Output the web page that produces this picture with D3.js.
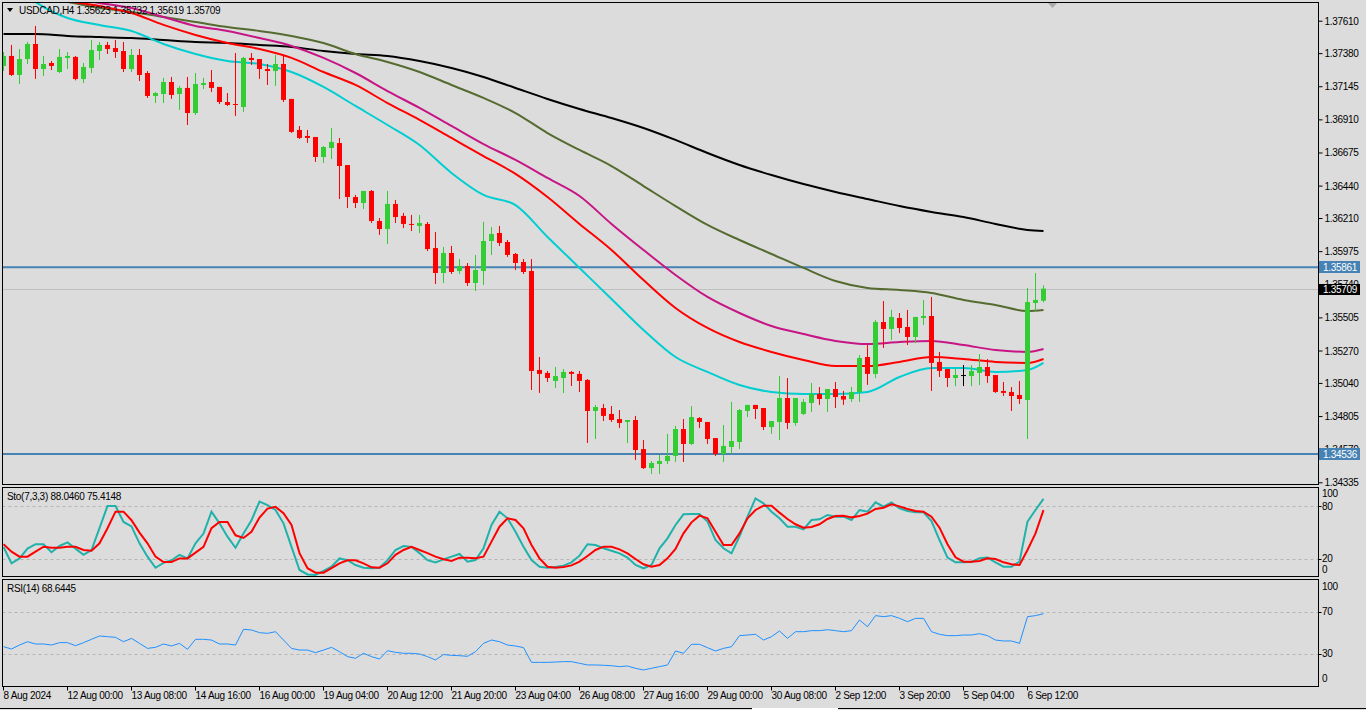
<!DOCTYPE html>
<html><head><meta charset="utf-8">
<script src="https://cdnjs.cloudflare.com/ajax/libs/d3/7.8.5/d3.min.js"></script>
<style>
html,body{margin:0;padding:0;background:#dcdcdc;overflow:hidden}
svg{display:block}
text{font-family:"Liberation Sans",Arial,sans-serif;font-size:10px;letter-spacing:-0.3px;fill:#000}
</style></head><body><svg id="c" width="1366" height="710"></svg>
<script>
// ---------- DATA ----------
const symbolTitle = "USDCAD,H4  1.35623 1.35732 1.35619 1.35709";
const stochTitle = "Sto(7,3,3) 88.0460 75.4148";
const rsiTitle = "RSI(14) 68.6445";

const openP = [1.37289,1.37360,1.37225,1.37338,1.37445,1.37267,1.37310,1.37246,1.37346,1.37353,
1.37196,1.37275,1.37395,1.37438,1.37416,1.37395,1.37267,1.37367,1.37239,1.37076,
1.37090,1.37175,1.37090,1.37133,1.36955,1.37154,1.37175,1.37140,1.37033,1.37019,
1.36998,1.37346,1.37338,1.37267,1.37253,1.37303,1.37055,1.36835,1.36792,1.36785,
1.36643,1.36707,1.36742,1.36586,1.36359,1.36317,1.36402,1.36189,1.36132,1.36310,
1.36225,1.36168,1.36154,1.36168,1.35997,1.35820,1.35962,1.35834,1.35870,1.35749,
1.35834,1.36047,1.36104,1.36040,1.35955,1.35898,1.35834,1.35132,1.35111,1.35054,
1.35075,1.35118,1.35104,1.35061,1.34841,1.34862,1.34820,1.34784,1.34763,1.34777,
1.34571,1.34436,1.34465,1.34486,1.34522,1.34713,1.34607,1.34791,1.34763,1.34649,
1.34536,1.34586,1.34621,1.34841,1.34884,1.34862,1.34727,1.34763,1.34933,1.34756,
1.34820,1.34898,1.34962,1.34926,1.34997,1.34947,1.34926,1.34976,1.35224,1.35104,
1.35472,1.35423,1.35501,1.35437,1.35366,1.35501,1.35515,1.35189,1.35139,1.35075,
1.35096,1.35089,1.35111,1.35153,1.35096,1.34983,1.34976,1.34955,1.34919,1.35607,
1.35623];
const highP = [1.37388,1.37438,1.37409,1.37459,1.37573,1.37360,1.37324,1.37409,1.37388,1.37360,
1.37310,1.37473,1.37459,1.37459,1.37473,1.37459,1.37409,1.37409,1.37253,1.37104,
1.37204,1.37211,1.37147,1.37211,1.37239,1.37204,1.37260,1.37140,1.37097,1.37381,
1.37353,1.37381,1.37338,1.37303,1.37367,1.37367,1.37055,1.36863,1.36835,1.36785,
1.36721,1.36849,1.36778,1.36586,1.36374,1.36402,1.36409,1.36210,1.36402,1.36338,
1.36246,1.36232,1.36232,1.36182,1.36111,1.36005,1.36012,1.35919,1.35891,1.35948,
1.36182,1.36146,1.36154,1.36054,1.35962,1.35919,1.35919,1.35224,1.35125,1.35153,
1.35139,1.35125,1.35125,1.35068,1.34884,1.34891,1.34876,1.34848,1.34777,1.34806,
1.34635,1.34486,1.34529,1.34678,1.34735,1.34784,1.34876,1.34798,1.34763,1.34649,
1.34742,1.34905,1.34855,1.34884,1.34884,1.34862,1.34770,1.35089,1.35075,1.34933,
1.34926,1.35040,1.35011,1.34997,1.35047,1.34983,1.35011,1.35238,1.35309,1.35487,
1.35621,1.35558,1.35536,1.35558,1.35508,1.35629,1.35650,1.35260,1.35139,1.35139,
1.35167,1.35167,1.35245,1.35210,1.35096,1.35047,1.35011,1.35054,1.35714,1.35820,
1.35732];
const lowP = [1.37260,1.37225,1.37168,1.37310,1.37204,1.37225,1.37267,1.37246,1.37275,1.37194,
1.37175,1.37246,1.37338,1.37381,1.37353,1.37253,1.37253,1.37189,1.37069,1.37033,
1.37033,1.37062,1.36984,1.36877,1.36948,1.37133,1.37111,1.37026,1.37012,1.36941,
1.36970,1.37303,1.37204,1.37161,1.37154,1.37040,1.36821,1.36778,1.36750,1.36615,
1.36608,1.36636,1.36352,1.36288,1.36288,1.36281,1.36182,1.36097,1.36033,1.36182,
1.36146,1.36125,1.36111,1.35983,1.35749,1.35756,1.35820,1.35820,1.35735,1.35699,
1.35742,1.35955,1.36019,1.35941,1.35848,1.35820,1.34997,1.34976,1.35054,1.35011,
1.34976,1.35025,1.34983,1.34621,1.34649,1.34777,1.34770,1.34727,1.34621,1.34500,
1.34436,1.34401,1.34401,1.34472,1.34486,1.34486,1.34607,1.34727,1.34614,1.34529,
1.34486,1.34543,1.34578,1.34806,1.34791,1.34713,1.34685,1.34642,1.34720,1.34742,
1.34820,1.34841,1.34891,1.34841,1.34869,1.34891,1.34912,1.34912,1.35033,1.35082,
1.35295,1.35352,1.35401,1.35316,1.35330,1.35458,1.34990,1.35089,1.35018,1.35025,
1.35025,1.35025,1.35033,1.35047,1.34976,1.34955,1.34848,1.34898,1.34649,1.35558,
1.35619];
const closeP = [1.37360,1.37225,1.37338,1.37445,1.37267,1.37303,1.37289,1.37353,1.37360,1.37196,
1.37282,1.37402,1.37438,1.37409,1.37388,1.37267,1.37367,1.37225,1.37076,1.37097,
1.37175,1.37083,1.37133,1.36955,1.37161,1.37168,1.37133,1.37033,1.37012,1.37012,
1.37346,1.37331,1.37267,1.37253,1.37303,1.37048,1.36821,1.36778,1.36778,1.36643,
1.36714,1.36750,1.36579,1.36359,1.36317,1.36402,1.36189,1.36132,1.36310,1.36217,
1.36168,1.36161,1.36175,1.35990,1.35820,1.35962,1.35827,1.35870,1.35749,1.35841,
1.36047,1.36097,1.36033,1.35948,1.35891,1.35827,1.35125,1.35104,1.35075,1.35089,
1.35118,1.35104,1.35054,1.34841,1.34869,1.34806,1.34777,1.34756,1.34777,1.34564,
1.34436,1.34472,1.34486,1.34522,1.34713,1.34607,1.34798,1.34763,1.34642,1.34536,
1.34593,1.34628,1.34848,1.34884,1.34855,1.34727,1.34770,1.34933,1.34756,1.34933,
1.34905,1.34962,1.34926,1.34997,1.34940,1.34922,1.34976,1.35217,1.35104,1.35472,
1.35423,1.35508,1.35430,1.35366,1.35508,1.35515,1.35182,1.35125,1.35075,1.35096,
1.35096,1.35125,1.35153,1.35089,1.34976,1.34969,1.34947,1.34926,1.35614,1.35629,
1.35709];

// moving averages, sampled at these bar indices
const maBars = [0,4,8,12,16,20,24,28,32,36,40,44,48,52,56,60,64,68,72,76,80,84,88,92,96,100,104,108,112,116,120,124,128,130];
const maCyan = [1.37941,1.37743,1.37629,1.37580,1.37537,1.37445,1.37374,1.37324,1.37303,1.37246,1.37140,1.37005,1.36870,1.36728,1.36530,1.36374,1.36302,1.36076,1.35856,1.35636,1.35416,1.35224,1.35118,1.35025,1.34976,1.34962,1.34962,1.34976,1.35082,1.35146,1.35146,1.35118,1.35132,1.35182];
const maRed = [1.37842,1.37800,1.37750,1.37714,1.37665,1.37580,1.37509,1.37452,1.37409,1.37346,1.37246,1.37154,1.37026,1.36906,1.36778,1.36650,1.36523,1.36359,1.36168,1.35983,1.35770,1.35572,1.35430,1.35330,1.35260,1.35203,1.35160,1.35160,1.35189,1.35224,1.35210,1.35189,1.35182,1.35210];
const maMagenta = [1.37863,1.37814,1.37771,1.37736,1.37700,1.37636,1.37573,1.37537,1.37487,1.37431,1.37346,1.37239,1.37111,1.36991,1.36863,1.36735,1.36622,1.36494,1.36366,1.36168,1.35983,1.35806,1.35650,1.35536,1.35444,1.35387,1.35338,1.35316,1.35330,1.35338,1.35309,1.35274,1.35260,1.35281];
const maOlive = [1.37814,1.37778,1.37743,1.37700,1.37672,1.37636,1.37601,1.37565,1.37537,1.37502,1.37452,1.37374,1.37317,1.37246,1.37154,1.37062,1.36955,1.36813,1.36693,1.36579,1.36437,1.36295,1.36161,1.36054,1.35955,1.35856,1.35763,1.35714,1.35699,1.35678,1.35629,1.35593,1.35550,1.35558];
const maBlack = [1.37516,1.37516,1.37502,1.37494,1.37487,1.37473,1.37459,1.37452,1.37438,1.37424,1.37395,1.37374,1.37360,1.37324,1.37275,1.37211,1.37133,1.37055,1.36984,1.36920,1.36849,1.36764,1.36671,1.36586,1.36515,1.36451,1.36395,1.36345,1.36295,1.36253,1.36217,1.36168,1.36125,1.36118];

const stochMain = [34,15.5,21,32,37,37,28,35,39,32,25,30.5,55,80,80,62,57,38,23,10.5,
16,19,25,21,38,49,73.5,60.5,45.5,33,49,64,85,81,75.5,60.5,34,8,3,2.4,
7,11.7,21,19,13.6,10.5,10,10.5,19,30.5,35,34,27,19,16.6,20,23,26,17.3,19.2,
32.4,58.6,73.6,66.1,51.1,34.2,19.2,11.7,10.6,11.4,12.9,16.6,24.1,36.9,36.1,32.4,29.7,26.7,21.9,13.6,
9.9,13.6,32.4,43.6,58.6,70.6,71,71,62.4,41.7,32.4,26.7,45.9,68,88.6,83,73.6,66.1,56.7,56.7,
53.7,64.2,65,69.9,68,68,64.2,75.5,73.6,84.1,79.2,84.1,77.4,74.4,72.9,72.9,63.1,41.7,21.9,16.6,
16.6,17,21.1,21.9,16.6,11.7,11.7,17.4,62.4,75.5,88.05];
const stochSignal = [37,28.6,23,23,28.6,34.2,33,33,34,34,30.5,29.7,38,55,73.6,73.6,64,50,38,23,
17,17,21,21,27.5,34,55,62,62,47,44,51,67,77,79,72,58.6,27,10,5,
5,10,15.5,19,19,15.5,11,10.6,15.5,25,30.5,34,30.5,27,23,20,18.1,21.9,21.9,21.1,
23,39.9,56.7,66.1,64.2,54.9,36.1,21.1,11.7,10.6,11.4,13.2,17.4,23.7,30.5,34.2,34.2,31.2,26.7,20.4,
14.4,11.7,13.6,21.1,31.6,49.2,61.6,69.1,66.1,51.1,36.1,36.1,49.2,66.1,75.5,80.3,80.3,72.5,65.4,59.4,
55.6,56.4,59.4,65.4,68.7,69.1,67.2,68.7,71.4,76.6,78.1,81.9,79.6,76.6,74.4,73.6,68,55.6,36.9,22.2,
17.4,17.4,18.1,21.1,20.4,16.6,14.4,13.6,30.5,49.2,75.41];
const rsiValues = [37,34.8,38.6,41.8,39.6,39.6,38.6,40.9,40.9,38,40.9,44.1,47.3,46.6,46,41.8,45,40.2,35.4,36.4,
39.6,37.7,40.2,34.5,44.1,44.1,43.4,39.6,39.6,38.6,53.7,53,50.5,49.8,51.4,43.4,35.4,33.8,33.8,31.3,
33.8,36.4,32.2,27.5,25.9,30.7,27.5,25.2,33.2,31.6,30.7,30.7,30,27.5,24.3,29.5,28.7,28.4,27.8,32.2,
40.2,43.4,41.8,38.6,37.7,36.1,22,22,22,22.3,22.7,22.7,21.1,19.5,19.5,19.2,18.8,17.9,18.5,16.3,
14.7,16.3,17.9,19.5,32.9,30.7,39.3,39.3,36.1,32.9,35.4,37,47.6,48.2,48.9,43.4,46.6,52.1,45,51.4,
51.4,52.4,52.4,53.3,52.4,51.4,52.4,62.6,56.2,66.8,65.8,66.8,64.2,61,64.2,64.2,51.4,48.9,47.6,47.6,
48.2,48.2,49.5,47.6,43.4,42.5,42.5,40.2,65.8,66.8,68.64];

const priceTicks = [1.37610,1.37380,1.37145,1.36910,1.36675,1.36440,1.36210,1.35975,1.35740,1.35505,1.35270,1.35040,1.34805,1.34570,1.34335];
const timeTickBars = [0,8,16,24,32,40,48,56,64,72,80,88,96,104,112,120,128];
const timeTickLabels = ["8 Aug 2024","12 Aug 00:00","13 Aug 08:00","14 Aug 16:00","16 Aug 00:00","19 Aug 04:00","20 Aug 12:00","21 Aug 20:00","23 Aug 04:00","26 Aug 08:00","27 Aug 16:00","29 Aug 00:00","30 Aug 08:00","2 Sep 12:00","3 Sep 20:00","5 Sep 04:00","6 Sep 12:00"];
const levelLines = [1.35861, 1.34536];
const bidPrice = 1.35709;
const stochLevels = [80, 20];
const rsiLevels = [70, 30];

// ---------- LAYOUT ----------
const svg = d3.select("#c");
const L = 2.5, R = 1318.5;
const mainTop = 2.5, mainBot = 484.5;
const stTop = 487.5, stBot = 576.5;
const rsTop = 579.5, rsBot = 686.5;

const x = d3.scaleLinear().domain([0, 130]).range([3.5, 1043.5]);
const yP = d3.scaleLinear().domain([1.34335, 1.37610]).range([482.3, 20.7]);
const yS = d3.scaleLinear().domain([0, 100]).range([577.1, 488.2]);
const yR = d3.scaleLinear().domain([0, 100]).range([685.3, 581]);
const fmt5 = d3.format(".5f");

const defs = svg.append("defs");
defs.append("clipPath").attr("id","cm").append("rect").attr("x",3).attr("y",3).attr("width",R-3).attr("height",mainBot-3);
defs.append("clipPath").attr("id","cs").append("rect").attr("x",3).attr("y",stTop+0.5).attr("width",R-3).attr("height",stBot-stTop-1);
defs.append("clipPath").attr("id","cr").append("rect").attr("x",3).attr("y",rsTop+0.5).attr("width",R-3).attr("height",rsBot-rsTop-1);

svg.append("rect").attr("width",1366).attr("height",710).attr("fill","#dcdcdc");

// ---------- MAIN PANEL ----------
const gm = svg.append("g").attr("clip-path","url(#cm)");
gm.append("line").attr("x1",L).attr("x2",R).attr("y1",Math.round(yP(bidPrice))+0.5).attr("y2",Math.round(yP(bidPrice))+0.5)
  .attr("stroke","#c0c0c0").attr("stroke-width",1);
gm.selectAll("line.lvl").data(levelLines).enter().append("line").attr("class","lvl")
  .attr("x1",L).attr("x2",R).attr("y1",d=>yP(d)).attr("y2",d=>yP(d))
  .attr("stroke","#4682b4").attr("stroke-width",2);

const maDefs = [
  {v: maBlack, c: "#000000"},
  {v: maOlive, c: "#556b2f"},
  {v: maMagenta, c: "#c71585"},
  {v: maRed, c: "#ff0000"},
  {v: maCyan, c: "#00ced1"}
];
const maLine = d3.line().x(d=>x(d[0])).y(d=>yP(d[1])).curve(d3.curveMonotoneX);
maDefs.forEach(m=>{
  gm.append("path").datum(maBars.map((b,i)=>[b,m.v[i]]))
    .attr("d",maLine).attr("fill","none").attr("stroke",m.c).attr("stroke-width",2);
});

const bars = d3.range(openP.length).map(i=>({i,o:openP[i],h:highP[i],l:lowP[i],c:closeP[i]}));
const col = d=> d.c>d.o ? "#32cd32" : (d.c<d.o ? "#ff0000" : "#000000");
const cg = gm.append("g");
cg.selectAll("line.wick").data(bars).enter().append("line").attr("class","wick")
  .attr("x1",d=>x(d.i)).attr("x2",d=>x(d.i))
  .attr("y1",d=>yP(d.h)).attr("y2",d=>yP(d.l)+1)
  .attr("stroke",col).attr("stroke-width",1);
cg.selectAll("rect.body").data(bars).enter().append("rect").attr("class","body")
  .attr("x",d=>x(d.i)-2.5).attr("width",5)
  .attr("y",d=>yP(Math.max(d.o,d.c)))
  .attr("height",d=>Math.max(1, yP(Math.min(d.o,d.c))-yP(Math.max(d.o,d.c))))
  .attr("fill",col);

// title
svg.append("path").attr("d","M7,8 L13,8 L10,12 Z").attr("fill","#000");
svg.append("text").attr("x",19).attr("y",14).text(symbolTitle);
// chart shift marker
svg.append("path").attr("d","M1048,3 L1057,3 L1052.5,8 Z").attr("fill","#a9a9a9");

// price axis (labels hidden under the highlight boxes are clipped to their visible top part)
defs.append("clipPath").attr("id","cpx").append("path")
  .attr("d", `M${R},0 H1366 V710 H${R} Z`);
const pAxis = svg.append("g").attr("transform",`translate(${R},0)`)
  .call(d3.axisRight(yP).tickValues(priceTicks).tickFormat(fmt5).tickSize(4).tickPadding(2));
pAxis.select(".domain").remove();
pAxis.selectAll("line").attr("stroke","#000");
pAxis.selectAll("text").style("font-size","10px").attr("fill","#000").attr("dy","0.35em");

// highlighted price labels
levelLines.forEach(v=>{
  const yy = Math.round(yP(v));
  svg.append("rect").attr("x",1319).attr("y",yy-6).attr("width",41).attr("height",12).attr("fill","#4682b4");
  svg.append("text").attr("x",1323).attr("y",yy+3.5).style("fill","#ffffff").text(fmt5(v));
});
{
  const yy = Math.round(yP(bidPrice));
  svg.append("rect").attr("x",1319).attr("y",yy-5).attr("width",41).attr("height",11).attr("fill","#000");
  svg.append("text").attr("x",1323).attr("y",yy+3.5).style("fill","#ffffff").text(fmt5(bidPrice));
}

// ---------- STOCHASTIC ----------
const gs = svg.append("g").attr("clip-path","url(#cs)");
gs.selectAll("line.lv").data(stochLevels).enter().append("line")
  .attr("x1",L).attr("x2",R).attr("y1",d=>Math.round(yS(d))+0.5).attr("y2",d=>Math.round(yS(d))+0.5)
  .attr("stroke","#b4b4b4").attr("stroke-dasharray","3,3");
const sLine = d3.line().x((d,i)=>x(i)).y(d=>yS(d));
gs.append("path").datum(stochMain).attr("d",sLine).attr("fill","none").attr("stroke","#20b2aa").attr("stroke-width",2);
gs.append("path").datum(stochSignal).attr("d",sLine).attr("fill","none").attr("stroke","#ff0000").attr("stroke-width",2);
svg.append("text").attr("x",7).attr("y",500).text(stochTitle);
const stLabels = [{t:"100",y:497},{t:"80",y:510},{t:"20",y:562},{t:"0",y:573}];
svg.selectAll("text.sl").data(stLabels).enter().append("text").attr("class","sl")
  .attr("x",1322).attr("y",d=>d.y).text(d=>d.t);
stochLevels.forEach(v=>svg.append("line").attr("x1",R).attr("x2",R+3).attr("y1",Math.round(yS(v))+0.5).attr("y2",Math.round(yS(v))+0.5).attr("stroke","#000"));

// ---------- RSI ----------
const gr = svg.append("g").attr("clip-path","url(#cr)");
gr.selectAll("line.lv").data(rsiLevels).enter().append("line")
  .attr("x1",L).attr("x2",R).attr("y1",d=>Math.round(yR(d))+0.5).attr("y2",d=>Math.round(yR(d))+0.5)
  .attr("stroke","#b4b4b4").attr("stroke-dasharray","3,3");
const rLine = d3.line().x((d,i)=>x(i)).y(d=>yR(d));
gr.append("path").datum(rsiValues).attr("d",rLine).attr("fill","none").attr("stroke","#1e90ff").attr("stroke-width",1);
svg.append("text").attr("x",7).attr("y",592).text(rsiTitle);
const rsLabels = [{t:"100",y:590},{t:"70",y:615},{t:"30",y:657},{t:"0",y:682}];
svg.selectAll("text.rl").data(rsLabels).enter().append("text").attr("class","rl")
  .attr("x",1322).attr("y",d=>d.y).text(d=>d.t);
rsiLevels.forEach(v=>svg.append("line").attr("x1",R).attr("x2",R+3).attr("y1",Math.round(yR(v))+0.5).attr("y2",Math.round(yR(v))+0.5).attr("stroke","#000"));

// ---------- FRAMES ----------
[[mainTop,mainBot],[stTop,stBot],[rsTop,rsBot]].forEach(([t,b])=>{
  svg.append("rect").attr("x",L).attr("y",t).attr("width",R-L).attr("height",b-t)
    .attr("fill","none").attr("stroke","#000").attr("stroke-width",1);
});

// ---------- TIME AXIS ----------
const tAxis = svg.append("g").attr("transform",`translate(0,${rsBot})`)
  .call(d3.axisBottom(x).tickValues(timeTickBars).tickFormat((d,i)=>timeTickLabels[i]).tickSize(4).tickPadding(1));
tAxis.select(".domain").remove();
tAxis.selectAll("line").attr("stroke","#000").attr("transform","translate(-0.5,0)");
tAxis.selectAll("text").attr("text-anchor","start").attr("dx","-0.5").style("font-size","10px").attr("fill","#000");

// bottom window edge
svg.append("line").attr("x1",0).attr("x2",1366).attr("y1",708.5).attr("y2",708.5).attr("stroke","#000");
svg.append("rect").attr("x",752).attr("y",708).attr("width",86).attr("height",2).attr("fill","#ffffff");
</script></body></html>
